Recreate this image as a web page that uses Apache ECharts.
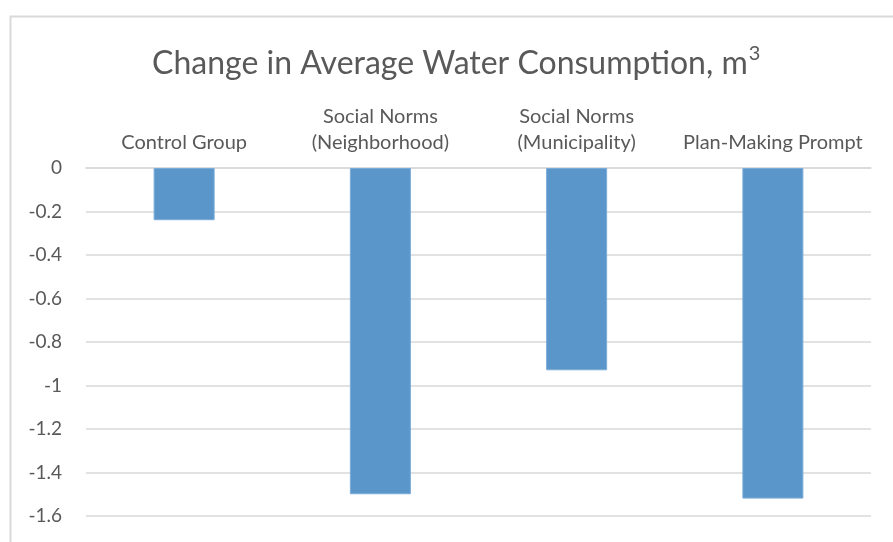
<!DOCTYPE html>
<html>
<head>
<meta charset="utf-8">
<script src="https://cdn.jsdelivr.net/npm/echarts@6/dist/echarts.min.js"></script>
<style>
html,body{margin:0;padding:0;background:#fff;}
#chart{width:893px;height:542px;}
</style>
</head>
<body>
<div id="chart"></div>
<script>
const categories = ['Control Group', 'Social Norms\n(Neighborhood)', 'Social Norms\n(Municipality)', 'Plan-Making Prompt'];
const changeValues = [-0.24, -1.50, -0.93, -1.52];
const yMin = -1.6;
const yMax = 0;
const yStep = 0.2;

const textColor = '#595959';
const font = 'Lato';

const chart = echarts.init(document.getElementById('chart'));
chart.setOption({
  animation: false,
  backgroundColor: '#ffffff',
  graphic: [{
    type: 'rect',
    left: 8, top: 14,
    shape: { width: 1000, height: 1000 },
    style: { fill: 'none', stroke: '#d9d9d9', lineWidth: 2 },
    z: -1
  }],
  title: {
    text: '{a|Change in Average Water Consumption, m}{s|3}',
    left: 152,
    top: 40,
    padding: 0,
    textStyle: {
      rich: {
        a: { fontFamily: font, fontWeight: 'normal', fontSize: 32, color: textColor, lineHeight: 40, verticalAlign: 'bottom' },
        s: { fontFamily: font, fontWeight: 'normal', fontSize: 20, color: textColor, lineHeight: 20, verticalAlign: 'top', padding: [4, 0, 0, 1] }
      }
    }
  },
  grid: { left: 86, right: 22, top: 168, bottom: 26, containLabel: false },
  xAxis: {
    type: 'category',
    position: 'top',
    data: categories,
    axisLine: { show: true, lineStyle: { color: '#d9d9d9', width: 1.5 } },
    axisTick: { show: false },
    axisLabel: { color: textColor, fontFamily: font, fontSize: 20, lineHeight: 26, margin: 12, interval: 0 },
    splitLine: { show: false }
  },
  yAxis: {
    type: 'value',
    min: yMin,
    max: yMax,
    interval: yStep,
    axisLine: { show: false },
    axisTick: { show: false },
    axisLabel: { color: textColor, fontFamily: font, fontSize: 19, margin: 24 },
    splitLine: { lineStyle: { color: '#d9d9d9', width: 1.5 } }
  },
  series: [{
    type: 'bar',
    data: changeValues,
    barWidth: 61,
    itemStyle: { color: '#5b96cb', borderColor: '#7aabd8', borderWidth: 1 }
  }]
});
</script>
</body>
</html>
